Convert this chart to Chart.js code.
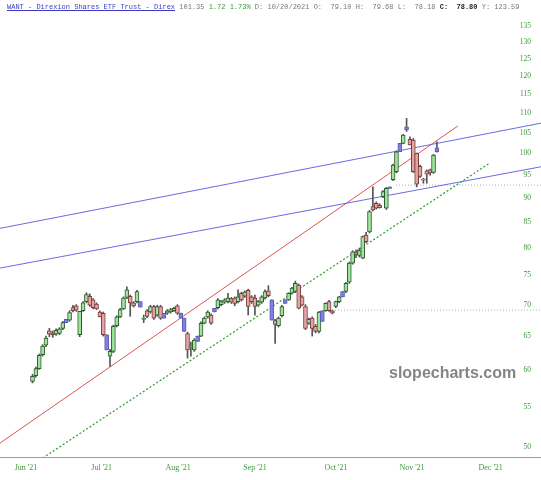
<!DOCTYPE html>
<html>
<head>
<meta charset="utf-8">
<title>WANT - slopecharts</title>
<script src="https://cdn.jsdelivr.net/npm/chart.js@4.4.1/dist/chart.umd.min.js"></script>
<style>
  body { margin: 0; background: #fff; }
  #wrap { position: relative; width: 541px; height: 480px; }
  #header { position: absolute; left: 7px; top: 3px; font: 7px "Liberation Mono", monospace; color: #777; white-space: pre; }
  #header .sym { color: #3b3bc4; text-decoration: underline; }
  #header .up { color: #3a9a3a; }
  #header b { color: #222; }
  #mark { position: absolute; left: 389px; top: 364px; font: bold 16px "Liberation Sans", Arial, sans-serif; color: #858585; }
</style>
</head>
<body>
<div id="wrap">
  <canvas id="chart" width="541" height="480"></canvas>
  <div id="header"><span class="sym">WANT - Direxion Shares ETF Trust - Direx</span> 101.35 <span class="up">1.72 1.73%</span> D: 10/20/2021 O:  79.10 H:  79.68 L:  78.18 <b>C:  78.80</b> Y: 123.59</div>
  <div id="mark">slopecharts.com</div>
</div>
<script>
// daily candles, left to right
const candleOpen = [58.4, 59.2, 60.2, 62.2, 63.6, 65.8, 65.5, 65.3, 65.4, 66.2,
  67.1, 67.5, 69.5, 69.8, 65.2, 69.0, 70.5, 71.4, 70.8, 70.1,
  68.8, 68.6, 65.2, 62.0, 62.7, 66.6, 68.0, 69.3, 71.2, 71.4,
  70.3, 70.5, 70.5, 67.6, 69.0, 68.8, 69.7, 68.3, 69.7, 67.8,
  68.6, 68.8, 69.0, 69.8, 68.6, 67.8, 65.4, 63.4, 62.9, 64.2,
  65.0, 67.0, 68.0, 68.3, 68.8, 69.5, 70.0, 70.4, 70.5, 71.0,
  71.1, 70.5, 71.9, 71.4, 72.4, 71.3, 71.1, 69.9, 70.4, 71.1,
  72.3, 70.8, 67.4, 66.6, 68.2, 70.2, 70.8, 71.9, 72.2, 73.3,
  71.3, 69.7, 67.0, 67.8, 66.5, 65.7, 67.3, 69.0, 70.5, 69.0,
  69.7, 70.5, 71.3, 72.2, 73.8, 77.2, 79.10, 78.6, 78.1, 82.5,
  83.1, 88.2, 88.9, 88.5, 90.3, 87.9, 92.1, 94.0, 95.8, 100.4,
  102.4, 105.7, 103.4, 103.2, 100.0, 97.0, 94.0, 96.0, 96.2, 95.6,
  100.4];
const candleHigh = [59.4, 60.4, 62.3, 63.7, 65.0, 66.2, 65.8, 66.1, 66.3, 67.3,
  67.6, 69.0, 69.9, 70.0, 68.9, 70.5, 72.0, 71.8, 71.0, 70.3,
  69.0, 68.8, 65.2, 63.0, 66.7, 68.2, 69.4, 71.3, 73.0, 71.6,
  70.5, 72.4, 70.5, 68.3, 69.2, 69.9, 69.9, 69.9, 69.9, 68.6,
  69.2, 69.4, 69.6, 70.0, 68.6, 67.8, 65.6, 64.1, 64.6, 65.0,
  67.2, 68.0, 69.0, 68.5, 69.4, 71.0, 70.7, 71.0, 71.9, 71.2,
  71.3, 72.5, 72.1, 72.3, 72.6, 71.5, 71.6, 70.7, 71.5, 72.5,
  73.2, 70.8, 67.6, 68.0, 69.9, 70.8, 72.0, 72.9, 74.0, 73.5,
  71.5, 70.0, 67.8, 68.0, 66.8, 68.9, 69.0, 70.3, 70.7, 69.1,
  70.6, 71.4, 72.2, 73.8, 77.4, 79.5, 79.68, 80.0, 82.3, 83.0,
  87.4, 92.4, 89.2, 88.8, 91.6, 92.3, 92.4, 97.5, 100.6, 102.4,
  104.6, 108.6, 104.0, 103.6, 100.1, 97.3, 94.3, 96.2, 96.4, 99.8,
  102.8];
const candleLow = [58.2, 59.0, 60.1, 62.0, 63.4, 64.9, 64.8, 65.1, 65.2, 66.0,
  67.1, 67.3, 68.8, 68.9, 64.9, 68.9, 70.3, 69.7, 69.3, 69.2,
  68.0, 65.0, 62.9, 60.5, 62.5, 66.4, 67.9, 69.2, 71.0, 68.1,
  69.6, 70.3, 69.6, 67.1, 67.9, 68.6, 67.6, 68.1, 67.6, 67.8,
  68.4, 68.6, 68.9, 68.4, 67.8, 65.7, 61.7, 62.0, 62.7, 64.2,
  64.9, 66.9, 67.8, 66.8, 68.8, 69.3, 69.8, 70.2, 70.3, 70.2,
  69.8, 70.3, 70.6, 71.2, 68.3, 70.2, 68.3, 69.7, 70.2, 70.9,
  71.3, 67.5, 63.9, 66.4, 68.0, 70.2, 70.7, 71.8, 72.0, 69.3,
  69.8, 66.0, 66.8, 65.0, 65.5, 65.5, 67.3, 68.9, 68.9, 68.5,
  69.5, 70.3, 71.3, 72.0, 73.6, 77.0, 78.18, 78.3, 78.0, 81.0,
  82.9, 87.3, 87.7, 87.9, 90.1, 87.6, 92.1, 93.8, 95.5, 100.4,
  102.3, 105.3, 102.0, 95.6, 92.4, 94.5, 93.2, 93.2, 95.0, 95.4,
  100.3];
const candleClose = [59.1, 60.2, 62.1, 63.5, 64.7, 65.3, 65.2, 65.9, 66.1, 67.1,
  67.6, 68.7, 69.0, 69.1, 68.9, 70.3, 71.7, 69.9, 69.5, 69.3,
  68.0, 65.2, 62.9, 62.7, 66.5, 68.0, 69.2, 71.1, 72.5, 70.3,
  69.8, 72.2, 69.6, 67.7, 68.1, 69.7, 67.8, 69.7, 67.8, 68.6,
  69.0, 69.2, 69.4, 68.6, 67.8, 65.7, 62.9, 63.5, 64.4, 65.0,
  67.0, 67.8, 68.8, 67.0, 69.4, 70.8, 70.5, 70.8, 71.1, 70.4,
  70.2, 71.3, 70.8, 72.1, 69.7, 70.5, 69.7, 70.5, 71.3, 72.2,
  71.5, 67.5, 66.8, 67.8, 69.7, 70.8, 71.9, 72.8, 73.6, 69.4,
  69.9, 66.2, 67.6, 66.2, 65.7, 68.8, 69.0, 70.2, 69.0, 68.6,
  70.5, 71.3, 72.2, 73.6, 77.2, 79.3, 78.80, 79.5, 82.2, 81.2,
  87.2, 87.5, 87.9, 88.0, 91.4, 92.1, 92.4, 97.3, 100.4, 102.4,
  104.4, 106.5, 102.0, 95.8, 93.0, 94.7, 93.9, 95.2, 95.5, 99.6,
  101.35];
// g = up, r = down, b = blue bars
const candleKind = ['g','g','g','g','g','r','r','g','g','g',
  'b','g','r','r','g','g','g','r','r','r',
  'r','r','b','g','g','g','g','g','g','r',
  'r','g','b','g','r','g','r','g','r','b',
  'g','g','g','r','b','b','r','g','g','b',
  'g','g','g','r','b','g','g','g','g','r',
  'r','g','r','g','r','r','r','g','g','g',
  'r','b','r','g','g','b','g','g','g','r',
  'r','r','g','r','r','g','b','g','r','r',
  'g','g','b','g','g','g','r','g','g','r',
  'g','r','r','r','g','g','b','g','g','b',
  'g','b','r','r','r','r','r','r','r','g',
  'b'];

// axis ticks
const priceTicks = [50, 55, 60, 65, 70, 75, 80, 85, 90, 95, 100, 105, 110, 115, 120, 125, 130, 135];
const monthLabels = ["Jun '21", "Jul '21", "Aug '21", "Sep '21", "Oct '21", "Nov '21", "Dec '21"];
const monthPos = [-1.93, 20.53, 43.18, 66.02, 90.06, 112.61, 135.96];

// drawn lines: [index, price] end points
const upperChannel = [[-9.64, 83.8], [150.89, 107.4]];
const lowerChannel = [[-9.64, 76.3], [150.89, 96.9]];
const redTrend = [[-9.64, 50.5], [126.26, 106.7]];
const greenTrend = [[2.05, 48.5], [135.76, 97.8]];
const levelHigh = [[107.86, 92.8], [150.89, 92.8]];
const levelLow = [[87.09, 69.1], [150.89, 69.1]];

const fills = { g: '#9ee49e', r: '#e4a4a4', b: '#8080e0' };
const edges = { g: '#2d5a2d', r: '#7a3c3c', b: '#5a5ab4' };

function lineSet(points, color, dash, width) {
  return {
    type: 'line',
    data: points.map(p => ({ x: p[0], y: p[1] })),
    borderColor: color,
    borderWidth: width,
    borderDash: dash,
    pointRadius: 0,
    fill: false,
    tension: 0,
    order: 3
  };
}

const wicks = {
  type: 'bar',
  data: candleHigh.map((h, i) => ({ x: i, y: [candleLow[i], h] })),
  backgroundColor: '#555',
  borderWidth: 0,
  barThickness: 1,
  grouped: false,
  order: 2
};

const bodies = {
  type: 'bar',
  data: candleOpen.map((o, i) => ({ x: i, y: [o, candleClose[i]] })),
  backgroundColor: ctx => fills[candleKind[ctx.dataIndex]],
  borderColor: ctx => edges[candleKind[ctx.dataIndex]],
  borderWidth: 1,
  borderSkipped: false,
  minBarLength: 1,
  barThickness: 4,
  grouped: false,
  order: 1
};

new Chart(document.getElementById('chart'), {
  type: 'bar',
  data: {
    datasets: [
      bodies,
      wicks,
      lineSet(upperChannel, '#6b6be0', [], 1),
      lineSet(lowerChannel, '#6b6be0', [], 1),
      lineSet(redTrend, '#e05252', [], 1),
      lineSet(greenTrend, '#2e9a2e', [2, 2], 1.2),
      lineSet(levelHigh, '#b0b0b0', [1, 2], 1),
      lineSet(levelLow, '#b0b0b0', [1, 2], 1)
    ]
  },
  options: {
    responsive: false,
    devicePixelRatio: 1,
    animation: false,
    events: [],
    layout: { padding: { top: 20, left: 0, right: 0, bottom: 0 } },
    plugins: { legend: { display: false }, tooltip: { enabled: false } },
    scales: {
      x: {
        type: 'linear',
        min: -9.644,
        max: 150.89,
        offset: false,
        grid: { display: false },
        border: { display: true, color: '#9a9a9a' },
        ticks: {
          autoSkip: false,
          maxRotation: 0,
          padding: -2,
          color: '#3a9a3a',
          font: { family: 'Liberation Serif', size: 8 },
          callback: (v, i) => monthLabels[i]
        },
        afterBuildTicks: s => { s.ticks = monthPos.map(v => ({ value: v })); },
        afterFit: s => { s.height = 23; }
      },
      y: {
        type: 'logarithmic',
        position: 'right',
        min: 48.869,
        max: 136.98,
        grid: { display: false },
        border: { display: false },
        ticks: {
          mirror: true,
          padding: -10,
          autoSkip: false,
          color: '#3a9a3a',
          font: { family: 'Liberation Serif', size: 7.5 },
          callback: v => String(v)
        },
        afterBuildTicks: s => { s.ticks = priceTicks.map(v => ({ value: v })); },
        afterFit: s => { s.width = 0; }
      }
    }
  }
});
</script>
</body>
</html>
